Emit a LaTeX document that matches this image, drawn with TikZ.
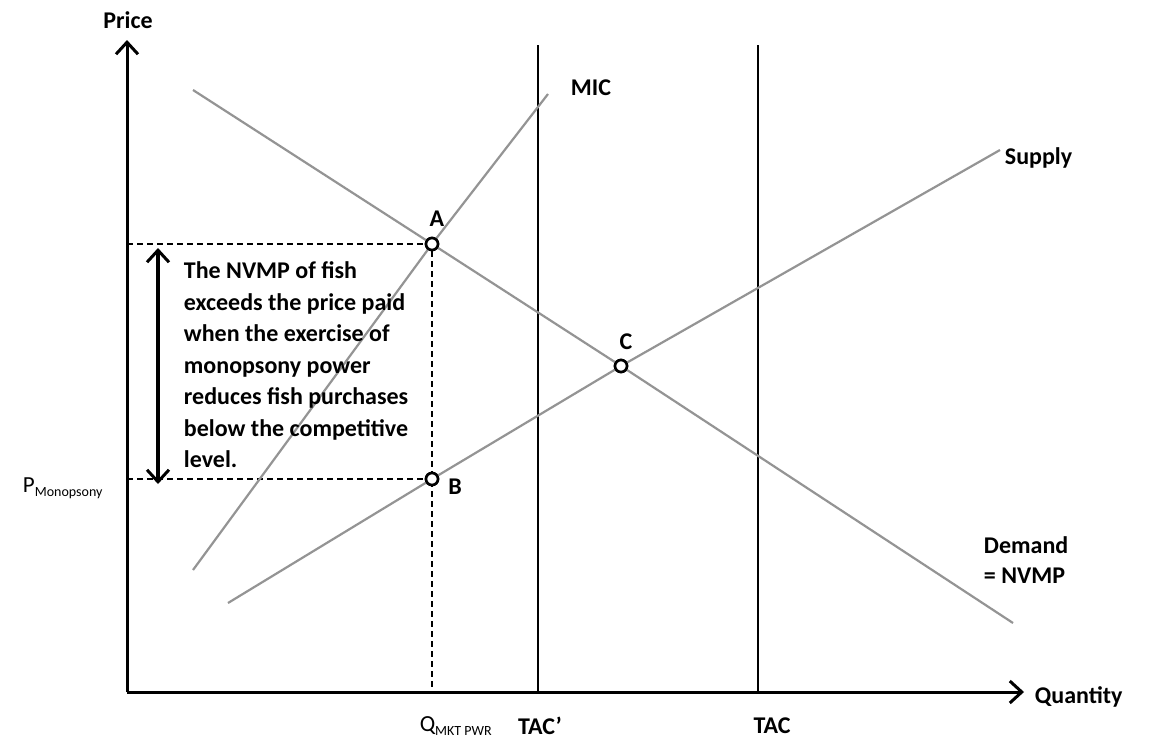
\documentclass[tikz,border=0pt]{standalone}
\usepackage{fontspec}
\setmainfont{Carlito}
\usetikzlibrary{arrows.meta}

\tikzset{
  lbl/.style={inner sep=0.75pt, font=\fontsize{24}{30}\selectfont\bfseries},
  curve/.style={draw=black!42, line width=2.2pt},
  tacline/.style={draw=black, line width=1.6pt},
  guide/.style={draw=black, dashed, dash pattern=on 6pt off 4pt, line width=1.3pt},
  pt/.style={circle, draw=black, fill=white, line width=2.6pt, minimum size=12pt, inner sep=0pt},
  barb/.style={line width=3pt},
  tip/.tip={Straight Barb[length=12pt,width=22pt,line width=3pt]}
}

\begin{document}
\begin{tikzpicture}[x=1pt,y=1pt,yscale=-1]
\useasboundingbox (0,0) rectangle (1150,745);

% points
\node [pt] (A) at (432,244) {};
\node [pt] (B) at (432,479) {};
\node [pt] (C) at (621,366) {};

% curve end points
\coordinate (dem1) at (193,90);
\coordinate (dem2) at (1013,623);
\coordinate (mic1) at (193,570);
\coordinate (mic2) at (548,94);
\coordinate (sup1) at (228,603);
\coordinate (sup2) at (1000,150);
\coordinate (O) at (127,692);
\coordinate (ytop) at (127,40);
\coordinate (xend) at (1024,692);
\coordinate (tacp1) at (538,45);
\coordinate (tacp2) at (538,692);
\coordinate (tac1) at (758,45);
\coordinate (tac2) at (758,692);
\coordinate (arr1) at (158,248);
\coordinate (arr2) at (158,484);

% axes
\draw [barb, -tip] (O) -- (ytop);
\draw [barb, -tip] (O) -- (xend);

% TAC lines
\draw [tacline] (tacp1) -- (tacp2);
\draw [tacline] (tac1) -- (tac2);

% dashed guides
\draw [guide] (A -| O) -- (A);
\draw [guide] (B -| O) -- (B);
\draw [guide] (A) -- (A |- O);

% curves
\draw [curve] (dem1) -- (A) -- (C) -- (dem2);
\draw [curve] (mic1) -- (A) -- (mic2);
\draw [curve] (sup1) -- (B) -- (C) -- (sup2);

% double arrow
\draw [barb, line width=3.5pt, tip-tip] (arr1) -- (arr2);

% redraw points on top
\node [pt] at (A) {};
\node [pt] at (B) {};
\node [pt] at (C) {};

% Text Node
\node [lbl] (price) at (128,20) {Price};
\node [lbl, anchor=west] (qty) at (1034,697) {Quantity};
\node [lbl, anchor=west] (mic) at (570,88) {MIC};
\node [lbl, anchor=west] (sup) at (1004,158) {Supply};
\node [lbl, anchor=north west, align=left] (dem) at (983,536) {Demand\\= NVMP};
\node [lbl] (la) at (437,219) {A};
\node [lbl] (lb) at (455,487) {B};
\node [lbl] (lc) at (626,342) {C};
\node [lbl, anchor=north west, align=left, font=\fontsize{24}{31.5}\selectfont\bfseries] (note) at (183,261) {The NVMP of fish\\exceeds the price paid\\when the exercise of\\monopsony power\\reduces fish purchases\\below the competitive\\level.};
\node [lbl, font=\fontsize{23}{25}\selectfont] (pmon) at (63,488) {P\textsubscript{\fontsize{14}{15}\selectfont Monopsony}};
\node [lbl, font=\fontsize{23}{25}\selectfont] (qmkt) at (456,726) {Q\textsubscript{\fontsize{14}{15}\selectfont MKT PWR}};
\node [lbl] (ltacp) at (540,726) {TAC’};
\node [lbl] (ltac) at (772,726) {TAC};

\end{tikzpicture}
\end{document}
